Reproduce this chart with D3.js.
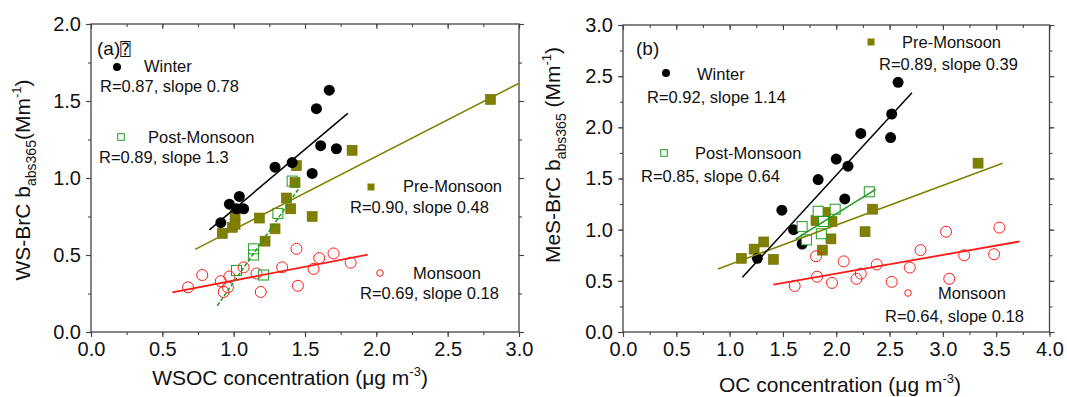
<!DOCTYPE html>
<html>
<head>
<meta charset="utf-8">
<script src="https://cdn.jsdelivr.net/npm/d3@7"></script>
<style>
  body { margin: 0; background: #fff; }
  svg { display: block; font-family: "Liberation Sans", Arial, sans-serif; }
</style>
</head>
<body>
<svg id="chart"></svg>
<script>
var width = 1067,
    height = 397;

// ---- panel (a): WS-BrC vs WSOC ----
var aWinter = [[0.91,0.71],[0.97,0.83],[1.04,0.88],[1.02,0.80],[1.07,0.80],[1.29,1.07],[1.41,1.10],
               [1.55,1.03],[1.58,1.45],[1.61,1.21],[1.67,1.57],[1.72,1.19]];
var aPre    = [[0.92,0.64],[0.99,0.68],[1.01,0.70],[1.01,0.76],[1.18,0.74],[1.22,0.59],[1.29,0.67],
               [1.37,0.87],[1.40,0.80],[1.44,1.08],[1.43,0.97],[1.55,0.75],[1.83,1.18],[2.80,1.51]];
var aPost   = [[1.02,0.40],[1.14,0.54],[1.14,0.50],[1.21,0.37],[1.31,0.77],[1.41,0.98]];
var aMon    = [[0.68,0.29],[0.78,0.37],[0.91,0.33],[0.93,0.26],[0.96,0.29],[0.97,0.36],[1.07,0.42],
               [1.16,0.38],[1.19,0.26],[1.34,0.42],[1.44,0.54],[1.45,0.30],[1.56,0.41],[1.60,0.48],
               [1.70,0.51],[1.82,0.45]];
// fitted lines, end points
var aWinterFit = [[0.83,0.663],[1.80,1.420]];
var aPreFit    = [[0.73,0.537],[3.00,1.615]];
var aPostFit   = [[0.885,0.170],[1.455,0.930]];
var aMonFit    = [[0.57,0.257],[1.94,0.502]];
var aLegend = ["Winter", "R=0.87, slope 0.78", "Post-Monsoon", "R=0.89, slope 1.3",
               "Pre-Monsoon", "R=0.90, slope 0.48", "Monsoon", "R=0.69, slope 0.18"];
var aTicksX = [0, 0.5, 1.0, 1.5, 2.0, 2.5, 3.0];
var aTicksY = [0, 0.5, 1.0, 1.5, 2.0];

// ---- panel (b): MeS-BrC vs OC ----
var bWinter = [[1.26,0.72],[1.49,1.19],[1.60,1.00],[1.68,0.86],[1.83,1.49],[2.00,1.69],[2.11,1.62],
               [2.08,1.30],[2.23,1.94],[2.52,2.13],[2.51,1.90],[2.58,2.44]];
var bPre    = [[1.11,0.72],[1.23,0.81],[1.32,0.88],[1.41,0.71],[1.81,1.09],[1.90,1.17],[1.87,0.80],
               [1.96,1.08],[1.95,0.91],[2.27,0.98],[2.34,1.20],[3.33,1.65]];
var bPost   = [[1.68,1.03],[1.72,0.90],[1.83,1.18],[1.88,1.08],[1.86,0.96],[1.99,1.20],[2.31,1.37]];
var bMon    = [[1.61,0.45],[1.81,0.74],[1.82,0.54],[1.96,0.48],[2.07,0.69],[2.19,0.52],[2.23,0.57],
               [2.38,0.66],[2.52,0.49],[2.69,0.63],[2.79,0.80],[3.03,0.98],[3.06,0.52],[3.20,0.75],
               [3.48,0.76],[3.53,1.02]];
var bWinterFit = [[1.12,0.534],[2.71,2.338]];
var bPreFit    = [[0.89,0.616],[3.56,1.649]];
var bPostFit   = [[1.62,0.911],[2.37,1.393]];
var bMonFit    = [[1.41,0.462],[3.72,0.885]];
var bLegend = ["Winter", "R=0.92, slope 1.14", "Post-Monsoon", "R=0.85, slope 0.64",
               "Pre-Monsoon", "R=0.89, slope 0.39", "Monsoon", "R=0.64, slope 0.18"];
var bTicksX = [0, 0.5, 1.0, 1.5, 2.0, 2.5, 3.0, 3.5, 4.0];
var bTicksY = [0, 0.5, 1.0, 1.5, 2.0, 2.5, 3.0];

var black = "#000", olive = "#808000", green = "#1f9a1f", red = "#ff1a1a";
var frameColor = "#444";
var fmt = d3.format(".1f");

var svg = d3.select("#chart").attr("width", width).attr("height", height);

function drawPanel(p) {
  var x = d3.scaleLinear().domain(p.xDomain).range(p.xRange);
  var y = d3.scaleLinear().domain(p.yDomain).range(p.yRange);
  var g = svg.append("g");

  var minorX = d3.range(p.xDomain[0], p.xDomain[1] + 1e-9, 0.25);
  var minorY = d3.range(p.yDomain[0], p.yDomain[1] + 1e-9, 0.25);

  // axes: left / bottom ticks out, right / top mirror ticks in
  function axis(gen, scale, ticks, minor, tf, size, minorSize, labels) {
    var a = g.append("g").attr("transform", tf);
    a.call(gen(scale).tickValues(minor).tickSize(minorSize).tickFormat(""));
    a.select(".domain").remove();
    var b = g.append("g").attr("transform", tf);
    b.call(gen(scale).tickValues(ticks).tickSize(size).tickPadding(5)
      .tickFormat(labels ? fmt : ""));
    b.select(".domain").remove();
    a.selectAll("line").attr("stroke", frameColor).attr("stroke-width", 1.1);
    b.selectAll("line").attr("stroke", frameColor).attr("stroke-width", 1.1);
    b.selectAll("text").attr("font-size", 20).attr("fill", "#111")
      .attr("font-family", "Liberation Sans, Arial, sans-serif");
  }
  axis(d3.axisBottom, x, p.ticksX, minorX, "translate(0," + p.yRange[0] + ")", 5, 3, true);
  axis(d3.axisLeft, y, p.ticksY, minorY, "translate(" + p.xRange[0] + ",0)", 5, 3, true);
  axis(d3.axisBottom, x, p.ticksX, minorX, "translate(0," + p.yRange[1] + ")", 5, 3, false);
  axis(d3.axisLeft, y, p.ticksY, minorY, "translate(" + p.xRange[1] + ",0)", -5, -3, false);

  g.append("rect")
    .attr("x", p.xRange[0]).attr("y", p.yRange[1])
    .attr("width", p.xRange[1] - p.xRange[0])
    .attr("height", p.yRange[0] - p.yRange[1])
    .attr("fill", "none").attr("stroke", frameColor).attr("stroke-width", 1.3);

  var sq = 10, r = 5.5;
  // pre-monsoon: filled olive squares
  g.selectAll(".pre").data(p.pre).enter().append("rect")
    .attr("x", function(d) { return x(d[0]) - sq / 2; })
    .attr("y", function(d) { return y(d[1]) - sq / 2; })
    .attr("width", sq).attr("height", sq)
    .attr("fill", olive).attr("stroke", "#6d6d00").attr("stroke-width", 0.6);
  // winter: filled black circles
  g.selectAll(".win").data(p.winter).enter().append("circle")
    .attr("cx", function(d) { return x(d[0]); })
    .attr("cy", function(d) { return y(d[1]); })
    .attr("r", r).attr("fill", black);
  // monsoon: open red circles
  g.selectAll(".mon").data(p.mon).enter().append("circle")
    .attr("cx", function(d) { return x(d[0]); })
    .attr("cy", function(d) { return y(d[1]); })
    .attr("r", r).attr("fill", "none").attr("stroke", red).attr("stroke-width", 1);
  // post-monsoon: open green squares
  g.selectAll(".post").data(p.post).enter().append("rect")
    .attr("x", function(d) { return x(d[0]) - sq / 2; })
    .attr("y", function(d) { return y(d[1]) - sq / 2; })
    .attr("width", sq).attr("height", sq)
    .attr("fill", p.postFill).attr("stroke", green).attr("stroke-width", 1);

  var line = d3.line().x(function(d) { return x(d[0]); }).y(function(d) { return y(d[1]); });
  var fits = [[p.preFit, olive, 1.5, null], [p.winterFit, black, 1.5, null],
              [p.monFit, red, 1.8, null], [p.postFit, green, 1.5, p.postDash]];
  fits.forEach(function(f) {
    g.append("path").attr("d", line(f[0])).attr("fill", "none")
      .attr("stroke", f[1]).attr("stroke-width", f[2])
      .attr("stroke-dasharray", f[3]);
  });

  // legend / annotation block
  var L = p.legendPos;
  g.append("circle").attr("cx", L.win[0]).attr("cy", L.win[1]).attr("r", 4).attr("fill", black);
  g.append("rect").attr("x", L.post[0] - 3.3).attr("y", L.post[1] - 3.3).attr("width", 6.6).attr("height", 6.6)
    .attr("fill", "#fff").attr("stroke", green).attr("stroke-width", 1);
  g.append("rect").attr("x", L.pre[0] - 3.5).attr("y", L.pre[1] - 3.5).attr("width", 7).attr("height", 7)
    .attr("fill", olive);
  g.append("circle").attr("cx", L.mon[0]).attr("cy", L.mon[1]).attr("r", 3.3)
    .attr("fill", "none").attr("stroke", red).attr("stroke-width", 1);
  L.text.forEach(function(t, i) {
    g.append("text").attr("x", t[0]).attr("y", t[1]).attr("font-size", 16.5)
      .attr("fill", "#111").text(p.legend[i]);
  });

  var lab = g.append("text").attr("x", p.label[0]).attr("y", p.label[1])
    .attr("font-size", 19).attr("fill", "#111").text(p.labelText);
  if (p.labelBox) {
    lab.append("tspan").attr("font-family", "DejaVu Sans Mono, DejaVu Sans")
      .attr("font-size", 17).text("\u2370");
  }

  // x title
  var xt = g.append("text").attr("x", p.xTitle[0]).attr("y", p.xTitle[1])
    .attr("text-anchor", "middle").attr("font-size", 21).attr("fill", "#111");
  xt.append("tspan").text(p.xName + " concentration (\u03bcg m");
  xt.append("tspan").attr("font-size", 13).attr("dy", -9).text("-3");
  xt.append("tspan").attr("dy", 9).text(")");

  // y title
  var yt = g.append("text")
    .attr("transform", "translate(" + p.yTitle[0] + "," + p.yTitle[1] + ") rotate(-90)")
    .attr("text-anchor", "middle").attr("font-size", 21).attr("fill", "#111");
  yt.append("tspan").text(p.yName + " b");
  yt.append("tspan").attr("font-size", 14).attr("dy", 6).text("abs365");
  yt.append("tspan").attr("dy", -6).text(p.ySep + "(Mm");
  yt.append("tspan").attr("font-size", 13).attr("dy", -9).text("-1");
  yt.append("tspan").attr("dy", 9).text(")");
}

drawPanel({
  xDomain: [0, 3], xRange: [91, 519],
  yDomain: [0, 2], yRange: [332, 24],
  ticksX: aTicksX, ticksY: aTicksY,
  winter: aWinter, pre: aPre, post: aPost, mon: aMon,
  winterFit: aWinterFit, preFit: aPreFit, postFit: aPostFit, monFit: aMonFit,
  postFill: "none", postDash: "4,2",
  legend: aLegend,
  legendPos: {
    win: [117, 67], post: [121, 137], pre: [371, 187], mon: [380, 273],
    text: [[144, 72], [100, 92], [148, 143], [99, 163], [403, 192], [350, 213], [413, 279], [360, 299]]
  },
  label: [97, 55], labelText: "(a)", labelBox: true,
  xName: "WSOC", xTitle: [290, 385],
  yName: "WS-BrC", ySep: "", yTitle: [30, 180]
});

drawPanel({
  xDomain: [0, 4], xRange: [623, 1049.5],
  yDomain: [0, 3], yRange: [332, 25],
  ticksX: bTicksX, ticksY: bTicksY,
  winter: bWinter, pre: bPre, post: bPost, mon: bMon,
  winterFit: bWinterFit, preFit: bPreFit, postFit: bPostFit, monFit: bMonFit,
  postFill: "#fff", postDash: null,
  legend: bLegend,
  legendPos: {
    win: [666, 73], post: [664, 153], pre: [871, 42], mon: [908, 293],
    text: [[697, 80], [647, 103], [695, 159], [641, 182], [902, 48], [879, 70], [938, 299], [885, 322]]
  },
  label: [636, 55], labelText: "(b)", labelBox: false,
  xName: "OC", xTitle: [840, 392],
  yName: "MeS-BrC", ySep: " ", yTitle: [560, 155]
});
</script>
</body>
</html>
